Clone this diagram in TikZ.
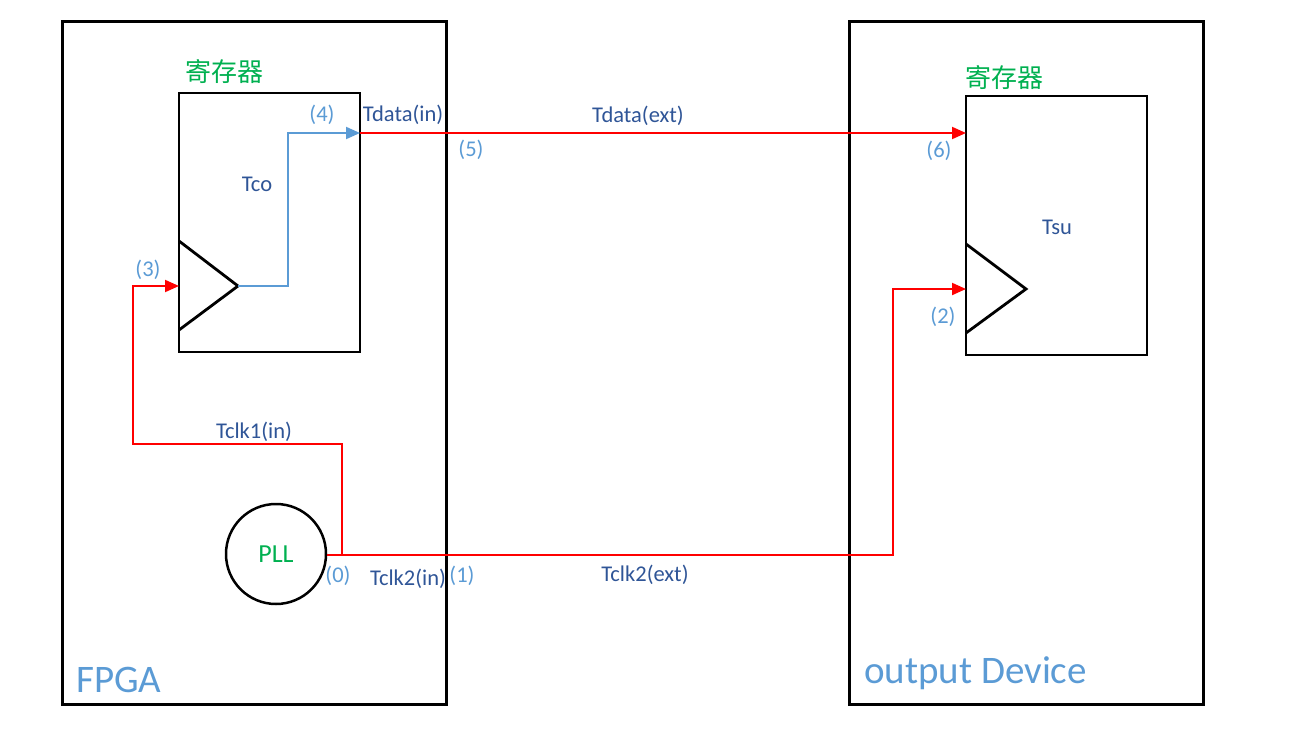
\documentclass[tikz,border=0pt]{standalone}
\usepackage{fontspec}
\setmainfont{Carlito}
\newfontfamily\cjk{Noto Sans CJK SC}
\usetikzlibrary{arrows.meta}
\definecolor{sigred}{RGB}{255,0,0}
\definecolor{lblue}{RGB}{91,155,213}
\definecolor{dblue}{RGB}{47,85,151}
\definecolor{lgreen}{RGB}{0,176,80}
\tikzset{
  outerbox/.style={draw=black, line width=3pt, minimum width=#1, inner sep=0pt, minimum height=683pt},
  regbox/.style={draw=black, line width=2.8pt, fill=white, minimum width=181pt, minimum height=259pt, inner sep=0pt},
  trishape/.style={draw=black, line width=2.8pt, line join=miter},
  redline/.style={draw=sigred, line width=2pt},
  blueline/.style={draw=lblue, line width=2pt},
  tip/.style={-{Triangle[length=14pt,width=12pt]}},
  dlabel/.style={text=dblue, font=\fontsize{22.5}{27}\selectfont, inner sep=0pt},
  nlabel/.style={text=lblue, font=\fontsize{22.5}{27}\selectfont, inner sep=0pt},
  cnlabel/.style={text=lgreen, font=\cjk\fontsize{26}{31}\selectfont, inner sep=0pt},
  biglabel/.style={text=lblue, font=\fontsize{39}{46}\selectfont, inner sep=0pt, anchor=west},
}
\begin{document}
\begin{tikzpicture}[x=1pt,y=-1pt]
\useasboundingbox (0,0) rectangle (1296,731);
% outer boxes
\node[outerbox=384pt] (fpga) at (254,362.5) {};
\node[outerbox=354pt] (dev) at (1026,362.5) {};
% registers
\node[regbox] (r1) at (269.5,222.5) {};
\node[regbox] (r2) at (1056.5,225.5) {};
% clock triangles
\draw[trishape] (179,241) -- (238,286) -- (179,330);
\draw[trishape] (966,244) -- (1026,289) -- (966,333);
\coordinate (q1) at (238,286);
\coordinate (clk1) at (179,286);
\coordinate (clk2) at (966,289);
\coordinate (dout) at (360,133);
\coordinate (din) at (966,133);
% PLL
\node[draw=black, line width=2.5pt, circle, minimum size=100pt, inner sep=0pt] (pll) at (276,554) {};
\node[text=lgreen, font=\fontsize{26}{31}\selectfont, inner sep=0pt] (pllt) at (pll.center) {PLL};
\coordinate (split) at (342,555);
% connectors
\draw[blueline, tip] (q1) -- (288,286) -- (288,133) -- (dout);
\draw[redline, tip] (dout) -- (din);
\draw[redline] (pll.east |- split) -- (split);
\draw[redline, tip] (split) -- (342,444) -- (133,444) -- (133,286) -- (clk1);
\draw[redline, tip] (split) -- (893,555) -- (893,289) -- (clk2);
% labels
\node[cnlabel] (c1) at (224,72) {寄存器};
\node[cnlabel] (c2) at (1004,78) {寄存器};
\node[dlabel] (tco) at (257,184) {Tco};
\node[dlabel] (tsu) at (1057,227) {Tsu};
\node[nlabel] (n4) at (322,115) {(4)};
\node[dlabel] (tdin) at (403,115) {Tdata(in)};
\node[dlabel] (tdext) at (638,116) {Tdata(ext)};
\node[nlabel] (n5) at (471,150) {(5)};
\node[nlabel] (n6) at (939,151) {(6)};
\node[nlabel] (n3) at (148,270) {(3)};
\node[nlabel] (n2) at (943,317) {(2)};
\node[dlabel] (tc1) at (254,432) {Tclk1(in)};
\node[nlabel] (n0) at (338,576) {(0)};
\node[dlabel] (tc2) at (408,579) {Tclk2(in)};
\node[nlabel] (n1) at (462,576) {(1)};
\node[dlabel] (tc2e) at (645,575) {Tclk2(ext)};
\node[biglabel] (fp) at (76,680) {FPGA};
\node[biglabel] (od) at (864,673) {output Device};
\end{tikzpicture}
\end{document}
